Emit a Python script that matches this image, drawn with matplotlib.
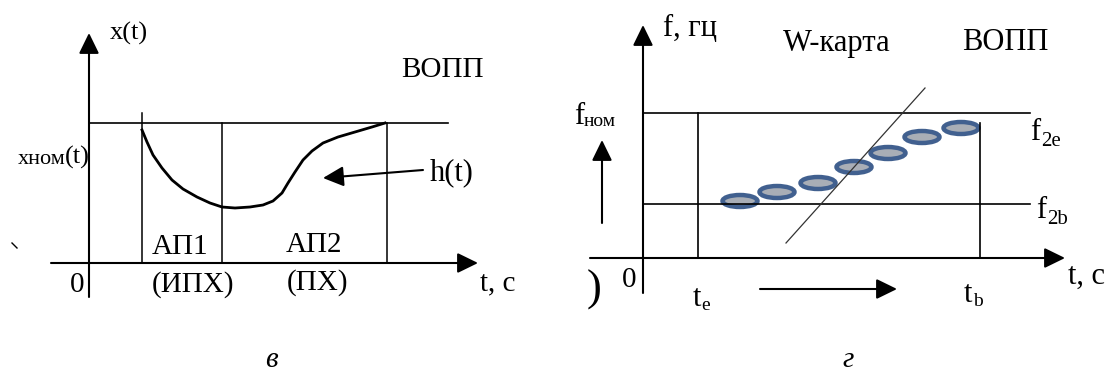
import matplotlib
matplotlib.use('Agg')
import matplotlib.pyplot as plt
from matplotlib.patches import Ellipse

plt.rcParams['font.family'] = ['Liberation Serif', 'DejaVu Serif']

# panel "в": curve h(t) (pixel-like units, y grows downward)
h_t = [142, 147, 153, 162, 172, 183, 197, 210, 222, 235, 250, 263, 273,
       282, 288, 295, 303, 312, 323, 338, 355, 372, 385]
h_x = [130, 142, 155, 168, 180, 189, 197, 203, 207, 208, 207, 205, 201,
       193, 183, 172, 160, 151, 143, 137, 132, 127, 123]
x_nom = 123
left_verticals = [(142, 113), (222, 123), (387, 123)]

# panel "г": W-map ellipses
ell_t = [740, 777, 818, 854, 888, 922, 961]
ell_f = [201, 192, 183, 167, 153, 137, 128]
f_nom = 113
f_2b = 204
t_e = 698
t_b = 980

W, H = 1115, 378
fig = plt.figure(figsize=(W / 100, H / 100), dpi=100)
split = 515
ax1 = fig.add_axes([0, 0, split / W, 1])
ax1.set_xlim(0, split)
ax1.set_ylim(H, 0)
ax2 = fig.add_axes([split / W, 0, (W - split) / W, 1])
ax2.set_xlim(split, W)
ax2.set_ylim(H, 0)
for ax in (ax1, ax2):
    ax.axis('off')

arr = dict(arrowstyle='-|>,head_length=0.45,head_width=0.22', mutation_scale=28,
           lw=1.5, color='black', shrinkA=0, shrinkB=0)


def arrow(ax, x0, y0, x1, y1):
    ax.annotate('', xy=(x1, y1), xytext=(x0, y0), arrowprops=arr)


# ---- left panel
arrow(ax1, 89, 297, 89, 33)
arrow(ax1, 51, 263, 478, 263)
ax1.plot([89, 448], [x_nom, x_nom], color='black', lw=1.2)
for x, top in left_verticals:
    ax1.plot([x, x], [top, 263], color='black', lw=1.1)
ax1.plot(h_t, h_x, color='black', lw=2, solid_joinstyle='round')
arrow(ax1, 423, 170, 323, 178)
ax1.plot([12, 17], [243, 248], color='black', lw=1)

ax1.text(110, 33, 'x(t)', fontsize=19, ha='left', va='center')
ax1.text(442, 70, 'ВОПП', fontsize=21, ha='center', va='center')
ax1.text(430, 173, 'h(t)', fontsize=22, ha='left', va='center')
ax1.text(66, 160, 'xном', fontsize=16, ha='right', va='center')
ax1.text(65, 157, '(t)', fontsize=19, ha='left', va='center')
ax1.text(180, 247, 'АП1', fontsize=21, ha='center', va='center')
ax1.text(193, 285, '(ИПХ)', fontsize=21, ha='center', va='center')
ax1.text(314, 245, 'АП2', fontsize=21, ha='center', va='center')
ax1.text(317, 283, '(ПХ)', fontsize=21, ha='center', va='center')
ax1.text(77, 285, '0', fontsize=21, ha='center', va='center')
ax1.text(480, 283, 't, с', fontsize=21, ha='left', va='center', clip_on=True)

# ---- right panel
arrow(ax2, 643, 293, 643, 25)
arrow(ax2, 590, 258, 1065, 258)
ax2.plot([643, 1030], [f_nom, f_nom], color='black', lw=1.2)
ax2.plot([643, 1030], [f_2b, f_2b], color='black', lw=1.2)
ax2.plot([t_e, t_e], [f_nom, 258], color='black', lw=1.2)
ax2.plot([t_b, t_b], [123, 258], color='black', lw=1.2)
ax2.plot([786, 925], [243, 88], color='#333333', lw=0.9)
for t, f in zip(ell_t, ell_f):
    ax2.add_patch(Ellipse((t, f), 35, 12, facecolor='#a9aeb6',
                          edgecolor='#41608f', lw=3.2))
arrow(ax2, 602, 223, 602, 140)
arrow(ax2, 760, 289, 897, 289)

ax2.text(663, 28, 'f, гц', fontsize=22, ha='left', va='center')
ax2.text(837, 43, 'W-карта', fontsize=22, ha='center', va='center')
ax2.text(1005, 43, 'ВОПП', fontsize=22, ha='center', va='center')
ax2.text(584, 116, 'f', fontsize=22, ha='right', va='center')
ax2.text(584, 121, 'ном', fontsize=14, ha='left', va='center')
ax2.text(1030, 132, 'f', fontsize=22, ha='left', va='center')
ax2.text(1041, 141, '2e', fontsize=15, ha='left', va='center')
ax2.text(1036, 210, 'f', fontsize=22, ha='left', va='center')
ax2.text(1047, 220, '2b', fontsize=15, ha='left', va='center')
ax2.text(1068, 276, 't, c', fontsize=22, ha='left', va='center')
ax2.text(629, 280, '0', fontsize=21, ha='center', va='center')
ax2.text(693, 298, 't', fontsize=22, ha='left', va='center')
ax2.text(701, 305, 'e', fontsize=14, ha='left', va='center')
ax2.text(964, 295, 't', fontsize=22, ha='left', va='center')
ax2.text(973, 302, 'b', fontsize=14, ha='left', va='center')
ax2.text(594, 290, ')', fontsize=32, ha='center', va='center')

# sub-figure letters
ax1.text(271, 360, 'в', fontsize=21, style='italic', ha='center', va='center')
ax2.text(848, 360, 'г', fontsize=21, style='italic', ha='center', va='center')

fig.savefig('out.png', dpi=100, facecolor='white')
